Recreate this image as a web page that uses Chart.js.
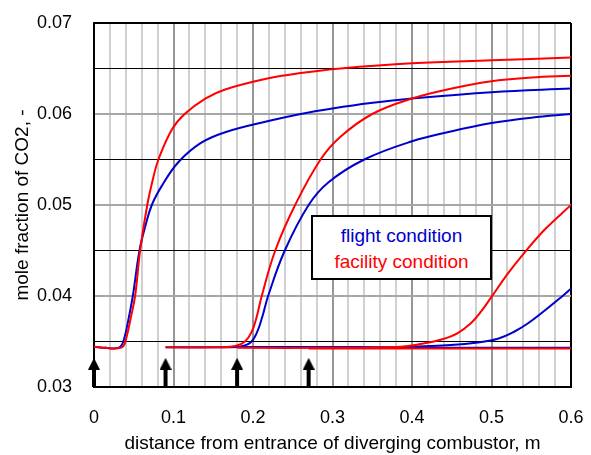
<!DOCTYPE html>
<html>
<head>
<meta charset="utf-8">
<script src="https://cdn.jsdelivr.net/npm/chart.js@4.4.1/dist/chart.umd.min.js"></script>
<style>
  body { margin: 0; background: #fff; }
  #wrap { position: relative; width: 591px; height: 455px; }
  #legendBox {
    position: absolute; left: 311px; top: 215px; width: 181px; height: 65px;
    box-sizing: border-box; border: 2px solid #000; background: #fff;
    font-family: "Liberation Sans", Arial, sans-serif; font-size: 19px;
    line-height: 26px; text-align: center; padding-top: 6px;
  }
</style>
</head>
<body>
<div id="wrap">
  <canvas id="myChart" width="591" height="455"></canvas>
  <div id="legendBox">
    <div style="color:#0000cc">flight condition</div>
    <div style="color:#ff0000">facility condition</div>
  </div>
</div>
<script>
// injection points (arrows)
const arrowX = [0, 0.09, 0.18, 0.27];
const arrowHeadY = 0.03255;
const arrowShaftTop = 0.0320;

// injection at x = 0
const blue1X = [0, 0.015, 0.028, 0.034, 0.0385, 0.0435, 0.0488, 0.0572, 0.0643, 0.0727, 0.0853, 0.106, 0.134, 0.165, 0.218, 0.26, 0.3, 0.348, 0.4, 0.5, 0.6];
const blue1Y = [0.03443, 0.0343, 0.03425, 0.0345, 0.0355, 0.0375, 0.0400, 0.0450, 0.0476, 0.0500, 0.0521, 0.0547, 0.0568, 0.0580, 0.0592, 0.0600, 0.0606, 0.0612, 0.0617, 0.0624, 0.0628];
const red1X = [0, 0.015, 0.03, 0.037, 0.041, 0.046, 0.0517, 0.058, 0.067, 0.0748, 0.081, 0.098, 0.114, 0.14, 0.165, 0.218, 0.26, 0.31, 0.4, 0.5, 0.6];
const red1Y = [0.03443, 0.0343, 0.03425, 0.0345, 0.0355, 0.0375, 0.0400, 0.0450, 0.0500, 0.0531, 0.0550, 0.0583, 0.0600, 0.0617, 0.0627, 0.0639, 0.0645, 0.0650, 0.06557, 0.0659, 0.0662];

// injection at x = 0.09
const blue2X = [0.09, 0.17, 0.184, 0.197, 0.205, 0.212, 0.219, 0.240, 0.270, 0.295, 0.34, 0.4, 0.45, 0.5, 0.55, 0.6];
const blue2Y = [0.03436, 0.03438, 0.03446, 0.0349, 0.0360, 0.0378, 0.0400, 0.0450, 0.0500, 0.0525, 0.0550, 0.0570, 0.0581, 0.0590, 0.0596, 0.0600];
const red2X = [0.09, 0.16, 0.178, 0.190, 0.198, 0.204, 0.211, 0.228, 0.253, 0.285, 0.31, 0.35, 0.4, 0.45, 0.5, 0.55, 0.6];
const red2Y = [0.03436, 0.03436, 0.0345, 0.0350, 0.0360, 0.0375, 0.0400, 0.0450, 0.0500, 0.0550, 0.0575, 0.0600, 0.0617, 0.0628, 0.0636, 0.0640, 0.0642];

// injection at x = 0.18
const blue3X = [0.18, 0.3, 0.386, 0.449, 0.483, 0.508, 0.529, 0.546, 0.567, 0.588, 0.6];
const blue3Y = [0.0344, 0.0344, 0.0344, 0.03462, 0.0349, 0.0353, 0.0361, 0.0370, 0.0384, 0.0399, 0.0408];
const red3X = [0.18, 0.3, 0.386, 0.411, 0.436, 0.457, 0.474, 0.487, 0.5, 0.52, 0.54, 0.567, 0.6];
const red3Y = [0.0343, 0.0343, 0.03443, 0.03473, 0.0352, 0.0359, 0.0370, 0.0383, 0.0399, 0.0424, 0.0446, 0.0473, 0.0500];

// injection at x = 0.27
const blue4X = [0.27, 0.6];
const blue4Y = [0.0343, 0.0343];
const red4X = [0.27, 0.6];
const red4Y = [0.03422, 0.03422];

const BLUE = '#0000cc';
const RED = '#ff0000';
const FONT = '"Liberation Sans", Arial, sans-serif';

function pts(xs, ys) {
    return xs.map((x, i) => ({ x: x, y: ys[i] }));
}

function curve(xs, ys, color) {
    return {
        data: pts(xs, ys),
        borderColor: color,
        borderWidth: 2,
        pointRadius: 0,
        fill: false,
        tension: 0.4
    };
}

// arrow head image
const head = document.createElement('canvas');
head.width = 12;
head.height = 12;
const hctx = head.getContext('2d');
hctx.fillStyle = '#000';
hctx.beginPath();
hctx.moveTo(6, 0);
hctx.lineTo(12, 12);
hctx.lineTo(0, 12);
hctx.closePath();
hctx.fill();

const arrowSets = arrowX.map(x => ({
    data: [{ x: x, y: 0.03 }, { x: x, y: arrowShaftTop }],
    borderColor: '#000',
    borderWidth: 4,
    pointRadius: 0,
    clip: false
}));
arrowSets.push({
    data: arrowX.map(x => ({ x: x, y: arrowHeadY })),
    showLine: false,
    pointStyle: head,
    pointRadius: 6,
    clip: false
});

const ctx = document.getElementById('myChart').getContext('2d');

new Chart(ctx, {
    type: 'line',
    data: {
        datasets: [
            ...arrowSets,
            curve(red1X, red1Y, RED),
            curve(red2X, red2Y, RED),
            curve(red3X, red3Y, RED),
            curve(red4X, red4Y, RED),
            curve(blue1X, blue1Y, BLUE),
            curve(blue2X, blue2Y, BLUE),
            curve(blue3X, blue3Y, BLUE),
            curve(blue4X, blue4Y, BLUE)
        ]
    },
    options: {
        responsive: false,
        animation: false,
        events: [],
        devicePixelRatio: 1,
        layout: { padding: { top: 23, right: 20, bottom: 0, left: 0 } },
        plugins: {
            legend: { display: false },
            tooltip: { enabled: false }
        },
        scales: {
            x: {
                type: 'linear',
                min: 0,
                max: 0.6,
                afterFit: s => { s.height = 68; },
                border: { display: true, color: '#000', width: 2 },
                grid: {
                    drawTicks: true,
                    tickLength: 18,
                    tickColor: 'rgba(0,0,0,0)',
                    color: c => {
                        const v = Math.round(c.tick.value * 100);
                        if (v === 60) return '#000';
                        return v % 10 === 0 ? '#969696' : '#d0d0d0';
                    },
                    lineWidth: 2
                },
                ticks: {
                    stepSize: 0.02,
                    autoSkip: false,
                    maxRotation: 0,
                    padding: 2,
                    color: '#000',
                    font: { family: FONT, size: 18 },
                    callback: v => {
                        const n = Math.round(v * 100);
                        if (n % 10 !== 0) return '';
                        return n === 0 ? '0' : (n / 100).toFixed(1);
                    }
                },
                title: {
                    display: true,
                    text: 'distance from entrance of diverging combustor, m',
                    color: '#000',
                    font: { family: FONT, size: 19 },
                    padding: { top: 0, bottom: 0 }
                }
            },
            y: {
                type: 'linear',
                min: 0.03,
                max: 0.07,
                afterFit: s => { s.width = 94; },
                border: { display: true, color: '#000', width: 2 },
                grid: {
                    drawTicks: true,
                    tickLength: 20,
                    tickColor: 'rgba(0,0,0,0)',
                    color: c => {
                        const v = Math.round(c.tick.value * 1000);
                        if (v === 70) return '#000';
                        return v % 10 === 0 ? '#a6a6a6' : '#000';
                    },
                    lineWidth: c => {
                        const v = Math.round(c.tick.value * 1000);
                        return v % 10 === 0 ? 2 : 1;
                    }
                },
                ticks: {
                    stepSize: 0.005,
                    autoSkip: false,
                    padding: 2,
                    color: '#000',
                    font: { family: FONT, size: 18 },
                    callback: v => {
                        const n = Math.round(v * 1000);
                        return n % 10 === 0 ? (n / 1000).toFixed(2) : '';
                    }
                },
                title: {
                    display: true,
                    text: 'mole fraction of CO2, -',
                    color: '#000',
                    font: { family: FONT, size: 19 },
                    padding: { top: 11, bottom: 0 }
                }
            }
        }
    }
});
</script>
</body>
</html>
